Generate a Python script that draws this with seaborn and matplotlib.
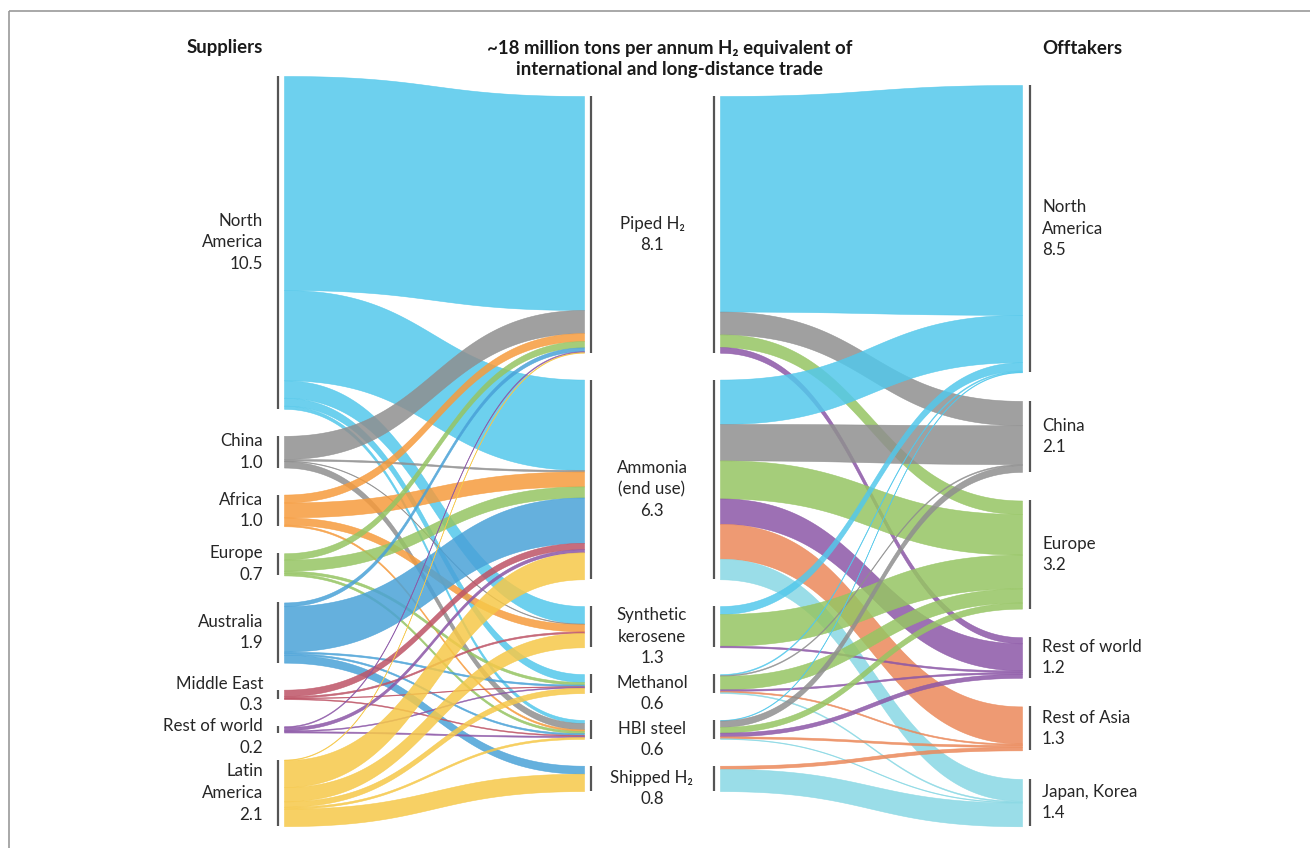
import numpy as np
import matplotlib
matplotlib.use("Agg")
import matplotlib.pyplot as plt
from matplotlib.patches import Rectangle
import seaborn as sns

# ---- node names and totals (million tons H2-eq per annum) ----
suppliers = ["North\nAmerica", "China", "Africa", "Europe", "Australia",
             "Middle East", "Rest of world", "Latin\nAmerica"]
supplier_totals = [10.5, 1.0, 1.0, 0.7, 1.9, 0.3, 0.2, 2.1]

carriers = ["Piped H\u2082", "Ammonia\n(end use)", "Synthetic\nkerosene",
            "Methanol", "HBI steel", "Shipped H\u2082"]
carrier_totals = [8.1, 6.3, 1.3, 0.6, 0.6, 0.8]

offtakers = ["North\nAmerica", "China", "Europe", "Rest of world",
             "Rest of Asia", "Japan, Korea"]
offtaker_totals = [8.5, 2.1, 3.2, 1.2, 1.3, 1.4]

# ---- supplier -> carrier flows (Piped, Ammonia, Kerosene, Methanol, HBI, Shipped) ----
north_america_out = [6.75, 2.85, 0.55, 0.25, 0.10, 0.00]
china_out         = [0.73, 0.05, 0.02, 0.00, 0.20, 0.00]
africa_out        = [0.25, 0.47, 0.23, 0.00, 0.05, 0.00]
europe_out        = [0.20, 0.35, 0.00, 0.08, 0.07, 0.00]
australia_out     = [0.12, 1.43, 0.00, 0.05, 0.05, 0.25]
middle_east_out   = [0.00, 0.20, 0.05, 0.02, 0.03, 0.00]
rest_world_out    = [0.03, 0.10, 0.00, 0.03, 0.04, 0.00]
latin_america_out = [0.02, 0.85, 0.45, 0.17, 0.06, 0.55]

# ---- carrier -> offtaker flows (N. America, China, Europe, RoW, Rest of Asia, Japan/Korea) ----
piped_to     = [6.80, 0.72, 0.40, 0.18, 0.00, 0.00]
ammonia_to   = [1.40, 1.15, 1.20, 0.80, 1.10, 0.65]
kerosene_to  = [0.25, 0.00, 1.00, 0.05, 0.00, 0.00]
methanol_to  = [0.03, 0.03, 0.42, 0.05, 0.04, 0.03]
hbi_to       = [0.02, 0.20, 0.18, 0.12, 0.06, 0.02]
shipped_to   = [0.00, 0.00, 0.00, 0.00, 0.10, 0.70]

supply_flows = np.array([north_america_out, china_out, africa_out, europe_out,
                         australia_out, middle_east_out, rest_world_out,
                         latin_america_out])
offtake_flows = np.array([piped_to, ammonia_to, kerosene_to, methanol_to,
                          hbi_to, shipped_to])

supplier_colors = ["#6DD0EE", "#A0A0A0", "#F7AA5A", "#A6CE7A",
                   "#65B0DE", "#C86E7D", "#9D70B4", "#F7D064"]
offtaker_colors = ["#6DD0EE", "#A0A0A0", "#A6CE7A", "#9D70B4",
                   "#EE9B73", "#9BDEE8"]

# ---- styling ----
sns.set_theme(style="white")
plt.rcParams["font.family"] = ["Lato", "DejaVu Sans"]
TEXT = "#262626"
ALPHA = 0.85


def base_color(c):
    """Colour that shows as c when painted with ALPHA on white."""
    rgb = np.array(c)
    return tuple(np.clip((rgb - (1 - ALPHA)) / ALPHA, 0, 1))


sup_pal = [base_color(c) for c in sns.color_palette(supplier_colors)]
off_pal = [base_color(c) for c in sns.color_palette(offtaker_colors)]

# ---- layout (pixel-like axes units) ----
W, H = 1310, 848
fig = plt.figure(figsize=(W / 100, H / 100), dpi=100)
ax = fig.add_axes([0, 0, 1, 1])
ax.set_xlim(0, W)
ax.set_ylim(H, 0)
ax.axis("off")

S_LEFT = 31.7     # px per unit, suppliers and carriers
S_RIGHT = 33.8    # px per unit, offtakers

X_SUP_BAR, X_SUP_FLOW = 278, 284
X_MID_L_BAR, X_MID_L_FLOW = 591, 584
X_MID_R_BAR, X_MID_R_FLOW = 714, 720
X_OFF_BAR, X_OFF_FLOW = 1030, 1022


def stack(totals, top, gap, scale):
    tops, y = [], top
    for t in totals:
        tops.append(y)
        y += t * scale + gap
    return tops


sup_top = stack(supplier_totals, 76, 27.0, S_LEFT)
mid_top = stack(carrier_totals, 96, 26.8, S_LEFT)
off_top = stack(offtaker_totals, 85, 28.6, S_RIGHT)

t = np.linspace(0, 1, 120)


def bez(p0, p1, p2, p3):
    return ((1 - t) ** 3) * p0 + 3 * ((1 - t) ** 2) * t * p1 + 3 * (1 - t) * t ** 2 * p2 + t ** 3 * p3


def ribbon(x0, x1, y0, w0, y1, w1, color):
    xm = (x0 + x1) / 2
    xs = bez(x0, xm, xm, x1)
    top = bez(y0, y0, y1, y1)
    bot = bez(y0 + w0, y0 + w0, y1 + w1, y1 + w1)
    ax.fill_between(xs, top, bot, color=color, alpha=ALPHA, lw=0.4,
                    edgecolor=color)


def draw_flows(matrix, src_top, dst_top, s_src, s_dst, x0, x1, colors_by_src, colors_by_dst, use_dst_color):
    n_src, n_dst = matrix.shape
    # offsets at source follow destination order; at destination follow source order
    src_pos = {}
    for i in range(n_src):
        acc = 0.0
        for j in range(n_dst):
            src_pos[(i, j)] = acc
            acc += matrix[i, j]
    dst_pos = {}
    for j in range(n_dst):
        acc = 0.0
        for i in range(n_src):
            dst_pos[(i, j)] = acc
            acc += matrix[i, j]
    for i in range(n_src):
        for j in range(n_dst):
            v = matrix[i, j]
            if v <= 0:
                continue
            col = colors_by_dst[j] if use_dst_color else colors_by_src[i]
            ribbon(x0, x1,
                   src_top[i] + src_pos[(i, j)] * s_src, v * s_src,
                   dst_top[j] + dst_pos[(i, j)] * s_dst, v * s_dst, col)


draw_flows(supply_flows, sup_top, mid_top, S_LEFT, S_LEFT,
           X_SUP_FLOW, X_MID_L_FLOW, sup_pal, None, False)
draw_flows(offtake_flows, mid_top, off_top, S_LEFT, S_RIGHT,
           X_MID_R_FLOW, X_OFF_FLOW, None, off_pal, True)

# ---- node bars ----
BAR = dict(color="#555555", lw=1.6)
for top, tot in zip(sup_top, supplier_totals):
    ax.vlines(X_SUP_BAR, top, top + tot * S_LEFT, **BAR)
for top, tot in zip(mid_top, carrier_totals):
    ax.vlines(X_MID_L_BAR, top, top + tot * S_LEFT, **BAR)
    ax.vlines(X_MID_R_BAR, top, top + tot * S_LEFT, **BAR)
for top, tot in zip(off_top, offtaker_totals):
    ax.vlines(X_OFF_BAR, top, top + tot * S_RIGHT, **BAR)

# ---- labels ----
LBL = dict(fontsize=12.2, color=TEXT, linespacing=1.44, va="center")
sup_shift = [0, 0, 0, 0, 0, 0, 8, 0]
for name, tot, top, dy in zip(suppliers, supplier_totals, sup_top, sup_shift):
    ax.text(263, top + tot * S_LEFT / 2 + dy, f"{name}\n{tot:.1f}", ha="right", **LBL)
for name, tot, top in zip(carriers, carrier_totals, mid_top):
    ax.text(652, top + tot * S_LEFT / 2 + 10, f"{name}\n{tot:.1f}", ha="center",
            multialignment="center", **LBL)
for name, tot, top in zip(offtakers, offtaker_totals, off_top):
    ax.text(1042, top + tot * S_RIGHT / 2, f"{name}\n{tot:.1f}", ha="left", **LBL)

HEAD = dict(fontsize=13.4, fontweight="bold", color="#1a1a1a", va="center")
ax.text(263, 48, "Suppliers", ha="right", **HEAD)
ax.text(1042, 48, "Offtakers", ha="left", **HEAD)
ax.text(670, 59, "~18 million tons per annum H\u2082 equivalent of\n"
        "international and long-distance trade", ha="center",
        multialignment="center", linespacing=1.35, **HEAD)

# ---- outer frame ----
ax.add_patch(Rectangle((9, 11), W + 50, H + 50, fill=False,
                       edgecolor="#9a9a9a", lw=1.2, clip_on=True))

fig.savefig("out.png", dpi=100)
